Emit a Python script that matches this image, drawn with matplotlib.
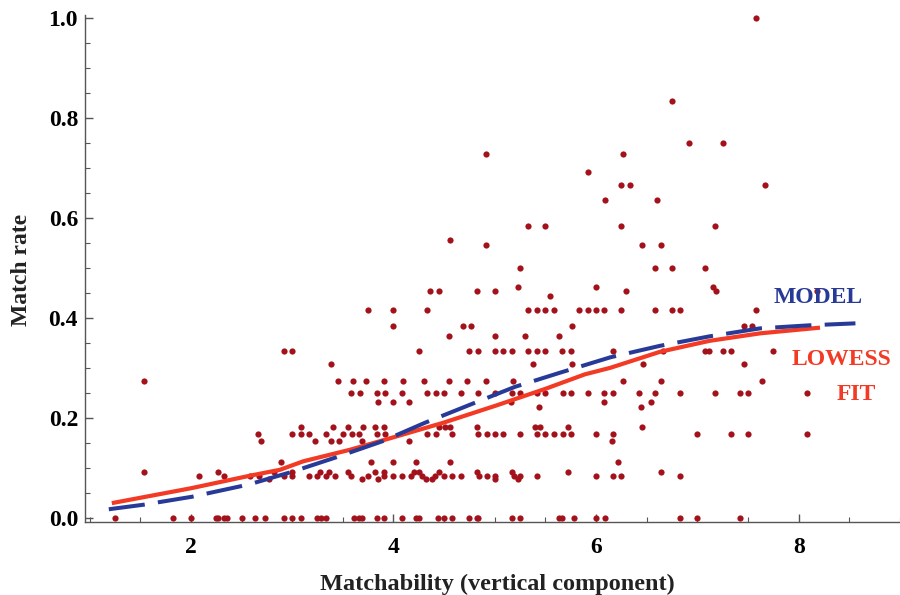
import matplotlib
matplotlib.use("Agg")
import matplotlib.pyplot as plt
import numpy as np
from matplotlib.ticker import MultipleLocator, FormatStrFormatter

plt.rcParams['font.family'] = ['Liberation Serif', 'DejaVu Serif']
plt.rcParams['font.weight'] = 'bold'

# match rates come in discrete levels, with the matchability values at each level
rate_levels = [0, 1/13, 1/12, 1/11, 1/9, 2/13, 1/6, 2/11, 2/9, 3/13, 1/4, 3/11,
               4/13, 1/3, 4/11, 5/13, 5/12, 4/9, 5/11, 6/13, 1/2, 6/11, 5/9,
               7/12, 7/11, 2/3, 9/13, 8/11, 3/4, 5/6, 1.0]
matchability_at_level = [
    [1.25, 1.82, 2.00, 2.25, 2.27, 2.33, 2.36, 2.50, 2.63, 2.73, 2.92, 3.00,
     3.09, 3.25, 3.28, 3.33, 3.61, 3.66, 3.69, 3.84, 3.91, 4.08, 4.22, 4.25,
     4.44, 4.50, 4.58, 4.75, 4.82, 4.83, 5.17, 5.25, 5.63, 5.66, 5.78, 6.00,
     6.09, 6.83, 7.00, 7.42],
    [2.77, 3.69, 3.85, 4.32, 4.38, 5.00, 5.23],
    [2.08, 2.33, 2.58, 2.67, 2.92, 3.00, 3.17, 3.25, 3.33, 3.42, 3.58, 3.75,
     3.91, 4.00, 4.08, 4.17, 4.28, 4.41, 4.50, 4.58, 4.67, 4.84, 4.92, 5.00,
     5.19, 5.25, 5.42, 6.00, 6.17, 6.25, 6.83],
    [1.54, 2.27, 2.82, 3.00, 3.27, 3.36, 3.55, 3.82, 3.91, 4.20, 4.25, 4.45,
     4.82, 5.17, 5.72, 6.64],
    [2.89, 3.78, 4.00, 4.22, 4.56, 6.22],
    [2.69, 3.23, 3.38, 3.46, 3.69, 4.15, 6.16],
    [2.66, 3.00, 3.09, 3.17, 3.33, 3.50, 3.59, 3.66, 3.84, 3.92, 4.33, 4.42,
     4.58, 4.83, 4.92, 5.00, 5.08, 5.25, 5.42, 5.50, 5.58, 5.67, 5.75, 6.00,
     6.17, 7.00, 7.33, 7.50, 8.08],
    [3.09, 3.40, 3.55, 3.70, 3.82, 3.91, 4.45, 4.51, 4.56, 4.82, 5.40, 5.45,
     5.72, 6.45],
    [5.44, 6.44],
    [3.85, 4.00, 4.15, 5.16, 6.08, 6.54],
    [3.58, 3.67, 3.84, 3.92, 4.08, 4.33, 4.42, 4.50, 4.67, 4.83, 5.00, 5.17,
     5.25, 5.42, 5.50, 5.67, 5.75, 5.92, 6.08, 6.17, 6.42, 6.58, 6.83, 7.17,
     7.42, 7.50, 8.08],
    [1.54, 3.45, 3.60, 3.73, 3.91, 4.09, 4.30, 4.55, 4.73, 4.91, 5.18, 6.27,
     6.64, 7.64],
    [3.38, 5.38, 5.76, 6.46, 7.46],
    [2.92, 3.00, 4.25, 4.75, 4.83, 5.00, 5.08, 5.17, 5.33, 5.42, 5.50, 5.66,
     5.75, 6.17, 6.66, 7.08, 7.11, 7.25, 7.33, 7.75],
    [4.55, 5.00, 5.30, 5.63],
    [4.00, 4.69, 4.77, 5.76, 7.46, 7.54],
    [3.75, 4.00, 4.33, 5.33, 5.42, 5.50, 5.58, 5.83, 5.92, 6.00, 6.08, 6.25,
     6.58, 6.75, 6.83, 7.58],
    [5.55],
    [4.36, 4.45, 4.82, 5.00, 6.30, 7.18, 8.18],
    [5.23, 6.00, 7.15],
    [5.25, 6.58, 6.75, 7.08],
    [4.91, 6.45, 6.64],
    [4.56],
    [5.33, 5.50, 6.25, 7.17],
    [6.09, 6.60],
    [6.25, 6.33, 7.67],
    [5.92],
    [4.91, 6.27],
    [6.92, 7.25],
    [6.75],
    [7.58],
]

lowess_x = [1.24, 2.00, 2.58, 2.88, 3.11, 3.57, 4.00, 4.49, 5.02, 5.50, 5.89,
            6.14, 6.63, 7.12, 7.62, 8.19]
lowess_y = [0.030, 0.059, 0.084, 0.096, 0.113, 0.136, 0.161, 0.190, 0.225,
            0.258, 0.287, 0.300, 0.332, 0.354, 0.369, 0.380]

model_x = [1.19, 1.53, 2.01, 2.49, 2.63, 3.00, 3.42, 3.89, 4.31, 4.79, 5.20,
           5.64, 6.14, 6.63, 7.12, 7.62, 8.10, 8.56]
model_y = [0.017, 0.026, 0.042, 0.063, 0.070, 0.092, 0.120, 0.153, 0.190,
           0.229, 0.262, 0.290, 0.321, 0.344, 0.363, 0.379, 0.385, 0.389]

pts_x = np.concatenate([np.array(v) for v in matchability_at_level])
pts_y = np.concatenate([np.full(len(v), r) for v, r in zip(matchability_at_level, rate_levels)])

fig = plt.figure(figsize=(9, 5.95), dpi=100)
ax = fig.add_axes([85/900, 1 - 522/595, 815/900, 507/595])

ax.scatter(pts_x, pts_y, s=20, color='#a3111b', linewidths=0, zorder=2)
ax.plot(lowess_x, lowess_y, color='#f23a25', lw=3.0, zorder=3)
ax.plot(model_x, model_y, color='#283a97', lw=2.9, dashes=(9, 3.3), zorder=4)

ax.text(8.19, 0.44, 'MODEL', color='#283a97', fontsize=17, ha='center', va='center')
ax.text(8.42, 0.317, 'LOWESS', color='#f23a25', fontsize=17, ha='center', va='center')
ax.text(8.57, 0.247, 'FIT', color='#f23a25', fontsize=17, ha='center', va='center')

ax.set_xlim(0.955, 9.0)
ax.set_ylim(-0.0085, 1.006)
for s in ['top', 'right']:
    ax.spines[s].set_visible(False)
for s in ['left', 'bottom']:
    ax.spines[s].set_color('#555555')
    ax.spines[s].set_linewidth(1.0)

ax.xaxis.set_major_locator(MultipleLocator(2))
ax.xaxis.set_minor_locator(MultipleLocator(0.5))
ax.yaxis.set_major_locator(MultipleLocator(0.2))
ax.yaxis.set_minor_locator(MultipleLocator(0.05))
ax.yaxis.set_major_formatter(FormatStrFormatter('%.1f'))
ax.tick_params(which='both', direction='in', color='#555555', labelsize=17)
ax.tick_params(which='major', length=5.5, width=1)
ax.tick_params(which='minor', length=3.5, width=0.8)
ax.tick_params(axis='x', pad=11)
ax.tick_params(axis='y', pad=5)

fig.text(497/900, 1 - 584/595, 'Matchability (vertical component)', fontsize=17.5,
         ha='center', va='center', color='#222222')
fig.text(22/900, 1 - 270/595, 'Match rate', fontsize=17, rotation=90,
         ha='center', va='center', color='#222222')

fig.savefig('out.png', dpi=100)
